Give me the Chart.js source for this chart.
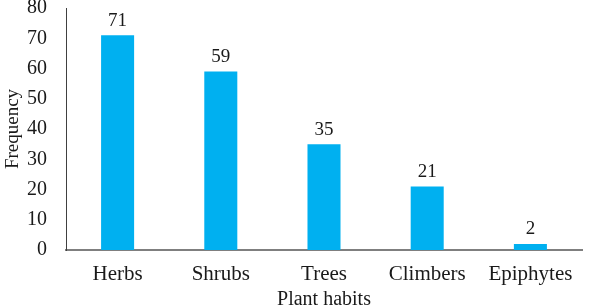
<!DOCTYPE html>
<html>
<head>
<meta charset="utf-8">
<script src="https://cdn.jsdelivr.net/npm/chart.js@4"></script>
<style>
  html, body { margin: 0; padding: 0; background: #fff; }
  #wrap { width: 598px; height: 305px; }
</style>
</head>
<body>
<div id="wrap"><canvas id="myChart" width="598" height="305"></canvas></div>
<script>
// categories and values
const habits = ['Herbs', 'Shrubs', 'Trees', 'Climbers', 'Epiphytes'];
const frequency = [71, 59, 35, 21, 2];
const yTicks = [0, 10, 20, 30, 40, 50, 60, 70, 80];

const serif = "'Liberation Serif', 'Times New Roman', serif";

// labels above each bar
const valueLabels = {
  id: 'valueLabels',
  afterDatasetsDraw(chart) {
    const ctx = chart.ctx;
    const meta = chart.getDatasetMeta(0);
    ctx.save();
    ctx.font = '19px ' + serif;
    ctx.fillStyle = '#1a1a1a';
    ctx.textAlign = 'center';
    ctx.textBaseline = 'bottom';
    meta.data.forEach((bar, i) => {
      ctx.fillText(frequency[i], bar.x, bar.y - 5);
    });
    ctx.restore();
  }
};

const ctx = document.getElementById('myChart').getContext('2d');
const myChart = new Chart(ctx, {
  type: 'bar',
  data: {
    labels: habits,
    datasets: [{
      label: 'Frequency',
      data: frequency,
      backgroundColor: '#00b0f0',
      barPercentage: 0.32,
      categoryPercentage: 1
    }]
  },
  options: {
    responsive: false,
    animation: false,
    layout: { autoPadding: false, padding: { top: 8, right: 16, left: 0, bottom: 0 } },
    plugins: { legend: { display: false }, tooltip: { enabled: false } },
    scales: {
      x: {
        grid: { display: false, drawTicks: false },
        border: { color: '#7f7f7f', width: 2 },
        ticks: { color: '#1a1a1a', font: { family: serif, size: 21 }, padding: 12 },
        title: { display: true, text: 'Plant habits', color: '#1a1a1a', font: { family: serif, size: 20, lineHeight: 1 }, padding: { top: 0, bottom: -5 } },
        afterFit(scale) {
          scale.height = 55;
          scale.paddingLeft = 0;
          scale.paddingRight = 0;
        }
      },
      y: {
        min: 0,
        max: 80,
        afterBuildTicks(scale) { scale.ticks = yTicks.map(v => ({ value: v })); },
        grid: { display: false, drawTicks: false },
        border: { color: '#404040', width: 1 },
        ticks: { color: '#1a1a1a', font: { family: serif, size: 20 }, padding: 19 },
        title: { display: true, text: 'Frequency', color: '#1a1a1a', font: { family: serif, size: 19 }, padding: { top: 2, bottom: 0 } },
        afterFit(scale) {
          scale.width = 66;
          scale.paddingTop = 0;
          scale.paddingBottom = 0;
        }
      }
    }
  },
  plugins: [valueLabels]
});
</script>
</body>
</html>
